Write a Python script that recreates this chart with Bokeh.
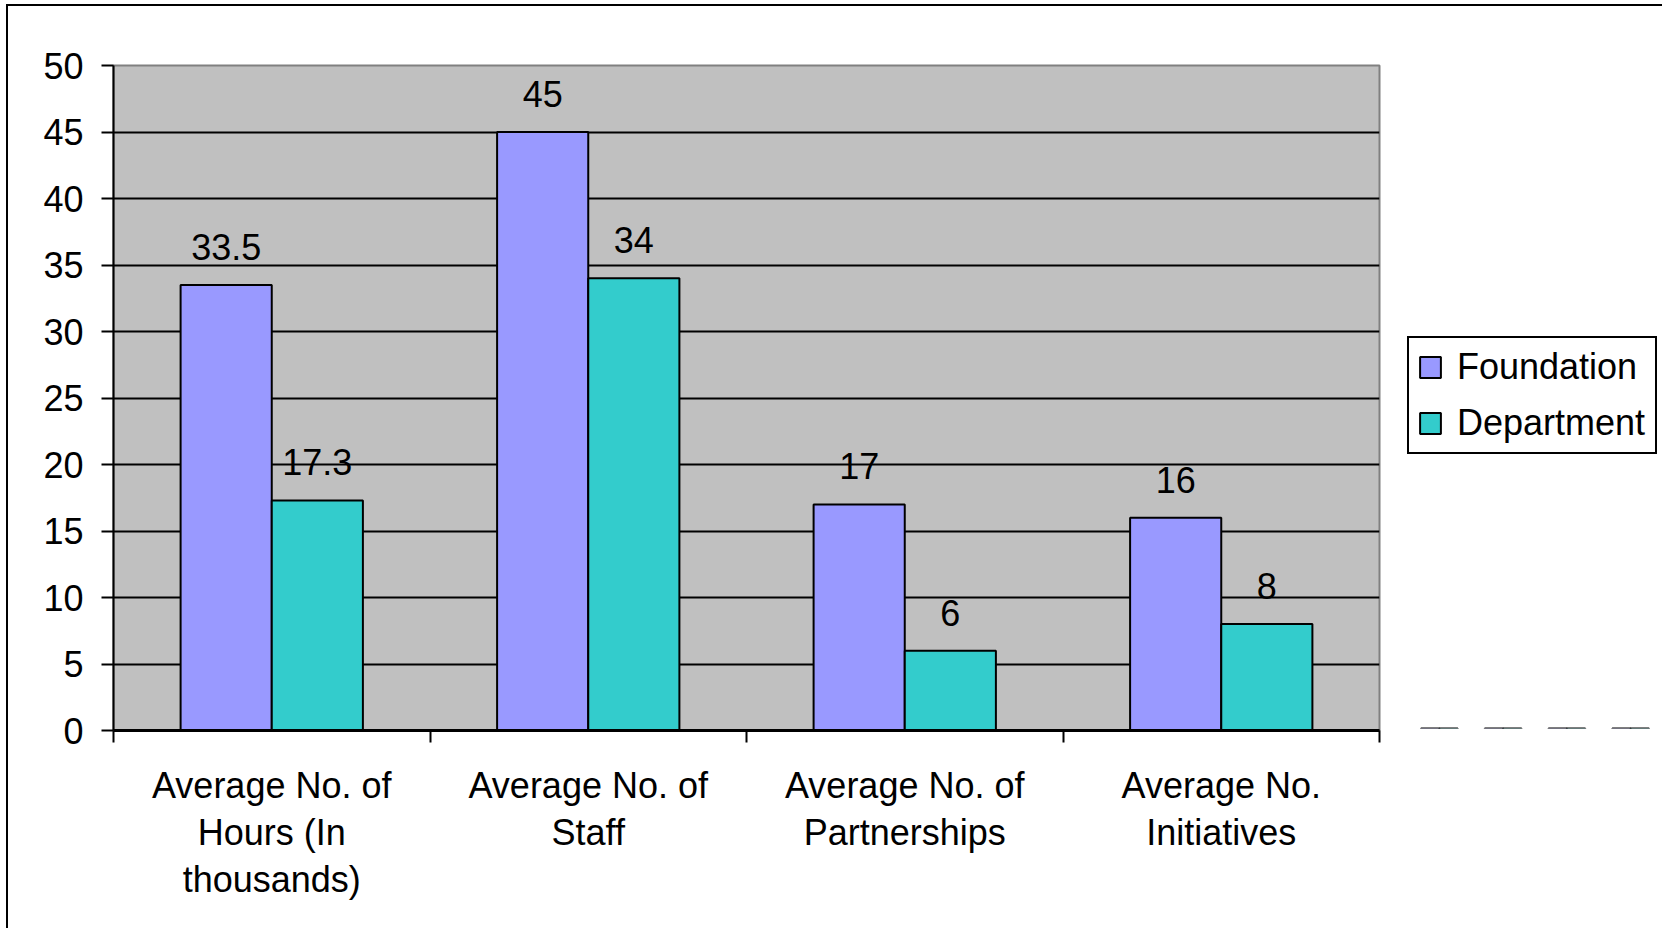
from bokeh.plotting import figure
from bokeh.layouts import row
from bokeh.models import (ColumnDataSource, Range1d, LinearAxis, FixedTicker,
                          Legend, LegendItem, LabelSet)
from bokeh.transform import dodge
from bokeh.core.properties import value
from bokeh.embed import file_html
from bokeh.resources import INLINE

# ---- data ----
categories = [
    "Average No. of\nHours (In\nthousands)",
    "Average No. of\nStaff",
    "Average No. of\nPartnerships",
    "Average No.\nInitiatives",
]
foundation = [33.5, 45, 17, 16]
department = [17.3, 34, 6, 8]
series_names = ["Foundation", "Department"]
y_ticks = [0, 5, 10, 15, 20, 25, 30, 35, 40, 45, 50]

FONT = "Liberation Sans"
FS = "36px"
C_FOUND = "#9999FF"
C_DEPT = "#33CCCC"

n = len(categories)
centers = [i + 0.5 for i in range(n)]      # category slot centres on a 0..n axis
bounds = [float(i) for i in range(n + 1)]  # category slot boundaries

src = ColumnDataSource(dict(
    xc=centers,
    foundation=foundation,
    department=department,
    f_lbl=[f"{v:g}" for v in foundation],
    d_lbl=[f"{v:g}" for v in department],
))

p = figure(
    x_range=Range1d(0, n),
    y_range=Range1d(0, 50),
    frame_width=1264, frame_height=663,
    min_border_left=105, min_border_top=59, min_border_right=30, min_border_bottom=200,
    x_axis_location=None,
    output_backend="svg", toolbar_location=None,
    background_fill_color="#C0C0C0", border_fill_color="white",
    outline_line_color="#808080", outline_line_width=2,
)
p.styles = {"margin-left": "6px", "margin-top": "4px",
            "border-left": "2px solid black", "border-top": "2px solid black"}

# y axis
yax = p.yaxis[0]
yax.ticker = FixedTicker(ticks=y_ticks)
yax.major_tick_out = 12
yax.major_tick_in = 0
yax.minor_tick_line_color = None
yax.major_tick_line_width = 2
yax.major_tick_line_color = "black"
yax.axis_line_width = 2
yax.axis_line_color = "black"
yax.major_label_standoff = 18
yax.major_label_text_font = FONT
yax.major_label_text_font_size = FS
yax.major_label_text_color = "black"

p.ygrid.ticker = FixedTicker(ticks=y_ticks)
p.ygrid.grid_line_color = "black"
p.ygrid.grid_line_width = 2
p.xgrid.visible = False

# x axis: labels at slot centres, tick marks (minor) at slot boundaries
xax = LinearAxis(ticker=FixedTicker(ticks=centers, minor_ticks=bounds),
                 major_label_overrides={c: lab for c, lab in zip(centers, categories)},
                 axis_line_color="black", axis_line_width=3,
                 major_tick_line_color=None, major_tick_out=0, major_tick_in=0,
                 minor_tick_line_color="black", minor_tick_line_width=2,
                 minor_tick_out=12, minor_tick_in=0,
                 major_label_text_font=FONT, major_label_text_font_size=FS,
                 major_label_text_color="black",
                 major_label_text_line_height=1.15,
                 major_label_standoff=22)
p.add_layout(xax, "below")

# bars
p.vbar(x=dodge("xc", -0.144), top="foundation", width=0.288,
       source=src, fill_color=C_FOUND, line_color="black", line_width=2)
p.vbar(x=dodge("xc", 0.144), top="department", width=0.288,
       source=src, fill_color=C_DEPT, line_color="black", line_width=2)

# data labels
for col, lbl, off in (("foundation", "f_lbl", -0.144), ("department", "d_lbl", 0.144)):
    ls = LabelSet(x=dodge("xc", off), y=col, text=lbl, source=src,
                  y_offset=25, text_align="center", text_baseline="alphabetic",
                  text_font=value(FONT), text_font_size=value(FS), text_color="black")
    p.add_layout(ls)

# ---- legend panel (separate figure to the right of the plot) ----
# same canvas height as the main plot, so its (aligned) frame matches the plot area;
# the proxy bars feeding the legend swatches lie outside its y-range (not visible)
q = figure(width=255, height=922, x_range=Range1d(0, n), y_range=Range1d(100, 200),
           min_border=0,
           x_axis_location=None, y_axis_location=None,
           output_backend="svg", toolbar_location=None,
           background_fill_color="white", border_fill_color="white",
           outline_line_color=None)
q.styles = {"margin-top": "4px", "border-top": "2px solid black"}
q.grid.visible = False
e1 = q.vbar(x=dodge("xc", -0.144), top="foundation", width=0.288, source=src,
            fill_color=C_FOUND, line_color="black", line_width=2)
e2 = q.vbar(x=dodge("xc", 0.144), top="department", width=0.288, source=src,
            fill_color=C_DEPT, line_color="black", line_width=2)

legend = Legend(
    items=[LegendItem(label=value(series_names[0]), renderers=[e1]),
           LegendItem(label=value(series_names[1]), renderers=[e2])],
    location=(0, 274), orientation="vertical",
    border_line_color="black", border_line_width=2, border_line_alpha=1,
    background_fill_color="white", background_fill_alpha=1,
    glyph_width=26, glyph_height=26,
    label_text_font=FONT, label_text_font_size=FS, label_text_color="black",
    label_width=190,
    padding=8, spacing=14, label_standoff=14, margin=0,
)
q.add_layout(legend)

layout = row(p, q)
open("out.html", "w").write(file_html(layout, INLINE))
